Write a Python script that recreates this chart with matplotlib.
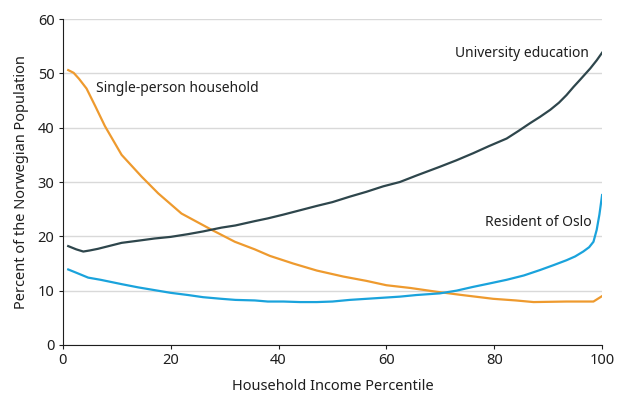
import matplotlib
matplotlib.use("Agg")
from matplotlib import pyplot

# values, at the percentiles listed
single_x = [1, 2, 3, 4.4, 6, 7.8, 10.9, 14.6, 17.7, 22, 27.6, 31.9, 35.6,
            38.4, 42.7, 47.1, 52, 56.3, 60, 64.4, 69.3, 74, 79.8, 84, 87.3,
            93.4, 98.4, 100]
single_y = [50.6, 50.1, 49.0, 47.2, 44.0, 40.3, 35.0, 31.0, 27.9, 24.2,
            21.2, 19.0, 17.6, 16.4, 15.0, 13.7, 12.6, 11.8, 11.0, 10.5, 9.8,
            9.2, 8.5, 8.2, 7.9, 8.0, 8.0, 9.0]

univ_x = [1, 2.5, 3.8, 5, 6.5, 8.5, 10.9, 14, 17, 20, 23.2, 26, 29.4, 32,
          35.6, 38, 40.9, 44, 47.1, 50, 53.2, 56.3, 59.4, 62.5, 65.6, 69.9,
          73, 76.1, 79, 82.3, 84.5, 86.6, 88.5, 90.4, 92, 93.4, 94.7, 95.9,
          97.8, 99, 100]
univ_y = [18.2, 17.6, 17.2, 17.4, 17.7, 18.2, 18.8, 19.2, 19.6, 19.9, 20.4,
          20.9, 21.6, 22.0, 22.8, 23.3, 24.0, 24.8, 25.6, 26.3, 27.3, 28.2,
          29.2, 30.0, 31.2, 32.8, 34.0, 35.3, 36.6, 38.0, 39.4, 40.8, 42.0,
          43.3, 44.6, 46.0, 47.5, 48.8, 50.9, 52.4, 53.8]

oslo_x = [1, 2.5, 4.7, 7, 10.9, 14, 17, 20, 23.2, 26, 29.4, 32, 35.6, 38,
          40.9, 44, 47.1, 50, 53.2, 56.3, 59.4, 62.5, 65.6, 69.9, 73, 76.1,
          79, 82.3, 85.5, 88.5, 91, 93.4, 95, 96.5, 97.6, 98.4, 99, 99.5, 100]
oslo_y = [13.9, 13.3, 12.4, 12.0, 11.2, 10.6, 10.1, 9.6, 9.2, 8.8, 8.5, 8.3,
          8.2, 8.0, 8.0, 7.9, 7.9, 8.0, 8.3, 8.5, 8.7, 8.9, 9.2, 9.5, 10.0,
          10.7, 11.3, 12.0, 12.8, 13.8, 14.7, 15.6, 16.3, 17.2, 18.0, 19.0,
          21.2, 24.0, 27.6]

labels = ["Single-person household", "University education", "Resident of Oslo"]
colors = ["#EE9A2E", "#2E464C", "#1AA3DC"]

pyplot.rcParams["font.family"] = ["Noto Sans", "DejaVu Sans"]
txt = "#1E1E1E"

fig = pyplot.figure(figsize=(6.22, 4.09), dpi=100)
ax = fig.add_axes([0.101, 0.1565, 0.867, 0.797])

ax.plot(single_x, single_y, color=colors[0], lw=1.6)
ax.plot(univ_x, univ_y, color=colors[1], lw=1.6)
ax.plot(oslo_x, oslo_y, color=colors[2], lw=1.6)

ax.text(6.1, 47.3, labels[0], fontsize=10, color=txt, va="center")
ax.text(97.6, 53.6, labels[1], fontsize=10, color=txt, va="center",
        ha="right")
ax.text(98.0, 22.6, labels[2], fontsize=10, color=txt, va="center",
        ha="right")

ax.set_xlim(0, 100)
ax.set_ylim(0, 60)
ax.set_xticks([0, 20, 40, 60, 80, 100])
ax.set_yticks([0, 10, 20, 30, 40, 50, 60])
ax.yaxis.grid(True, color="#D9D9D9", lw=1)
ax.set_axisbelow(True)
for s in ["top", "right"]:
    ax.spines[s].set_visible(False)
ax.spines["left"].set_color(txt)
ax.spines["bottom"].set_color(txt)
ax.tick_params(axis="both", length=3, width=0.8, color=txt,
               labelsize=10.5, labelcolor=txt, pad=3)
ax.set_xlabel("Household Income Percentile", fontsize=10.5, color=txt,
              labelpad=8)
ax.set_ylabel("Percent of the Norwegian Population", fontsize=10.5,
              color=txt, labelpad=6)

fig.savefig("out.png", dpi=100)
